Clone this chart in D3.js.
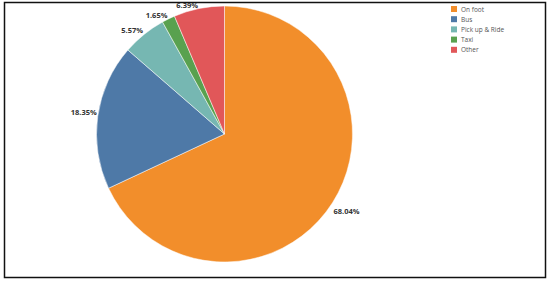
<!DOCTYPE html>
<html>
<head>
<meta charset="utf-8">
<script src="https://cdn.jsdelivr.net/npm/d3@7"></script>
<style>
  body { margin: 0; background: #fff; }
  svg { display: block; }
</style>
</head>
<body>
<script>
var categories = ["On foot", "Bus", "Pick up & Ride", "Taxi", "Other"];
var values = [68.04, 18.35, 5.57, 1.65, 6.39];
var colors = ["#F28E2B", "#4E79A7", "#76B7B2", "#59A14F", "#E15759"];

var width = 550, height = 283;
var cx = 224.5, cy = 134, radius = 128;

var svg = d3.select("body").append("svg")
    .attr("width", width)
    .attr("height", height);

// outer frame
svg.append("rect")
    .attr("x", 4.5).attr("y", 2.5)
    .attr("width", 541).attr("height", 275)
    .attr("fill", "none")
    .attr("stroke", "#111")
    .attr("stroke-width", 1.5);

var data = categories.map(function(c, i) { return {name: c, value: values[i], color: colors[i]}; });

var pie = d3.pie().sort(null).value(function(d) { return d.value; });
var arc = d3.arc().innerRadius(0).outerRadius(radius);

var g = svg.append("g").attr("transform", "translate(" + cx + "," + cy + ")");

var arcs = pie(data);

g.selectAll("path.slice")
    .data(arcs)
    .enter()
    .append("path")
    .attr("class", "slice")
    .attr("d", arc)
    .attr("fill", function(d) { return d.data.color; })
    .attr("stroke", "#fff")
    .attr("stroke-width", 0.5);

// labels sit just outside the edge, corner touching the rim
g.selectAll("text.lbl")
    .data(arcs)
    .enter()
    .append("text")
    .attr("class", "lbl")
    .each(function(d) {
        var a = (d.startAngle + d.endAngle) / 2;
        var x = Math.sin(a) * radius, y = -Math.cos(a) * radius;
        var right = x >= 0;
        var below = y > 0;
        d3.select(this)
            .attr("x", x + (right ? 1 : -1))
            .attr("y", below ? y + 11 : y - 1)
            .attr("text-anchor", right ? "start" : "end");
    })
    .style("font-family", "'Open Sans', sans-serif")
    .style("font-size", "7.5px")
    .style("font-weight", "bold")
    .style("fill", "#333")
    .text(function(d) { return d.data.value.toFixed(2) + "%"; });

// legend
var legend = svg.append("g").attr("transform", "translate(451,6)");
var item = legend.selectAll("g")
    .data(data)
    .enter()
    .append("g")
    .attr("transform", function(d, i) { return "translate(0," + (i * 10.2) + ")"; });

item.append("rect")
    .attr("width", 6).attr("height", 6)
    .attr("fill", function(d) { return d.color; });

item.append("text")
    .attr("x", 10)
    .attr("y", 5.5)
    .style("font-family", "'Open Sans', sans-serif")
    .style("font-size", "6.5px")
    .style("fill", "#555")
    .text(function(d) { return d.name; });
</script>
</body>
</html>
